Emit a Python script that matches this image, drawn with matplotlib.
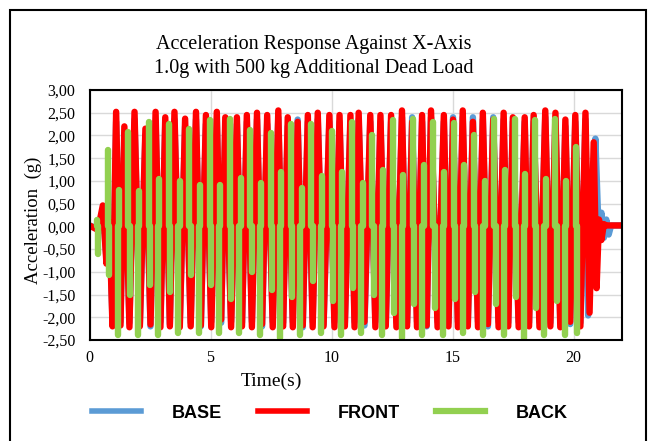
import numpy as np
import matplotlib.pyplot as plt
from matplotlib.lines import Line2D
from matplotlib.patches import Rectangle
from matplotlib.ticker import FuncFormatter

# FRONT sensor, turning points (time s, acceleration g)
front_t = [0.00, 0.35, 0.55, 0.70, 0.82, 0.95, 1.10, 1.28, 1.44, 1.65,
           1.86, 2.08, 2.31, 2.52, 2.73, 2.93, 3.13, 3.32, 3.51, 3.73,
           3.95, 4.18, 4.40, 4.60, 4.81, 5.03, 5.26, 5.44, 5.61, 5.85,
           6.09, 6.30, 6.50, 6.71, 6.92, 7.13, 7.34, 7.57, 7.80, 8.00,
           8.19, 8.40, 8.60, 8.81, 9.02, 9.22, 9.43, 9.67, 9.91, 10.12,
           10.33, 10.55, 10.78, 10.95, 11.12, 11.36, 11.60, 11.81, 12.02, 12.24,
           12.46, 12.68, 12.91, 13.12, 13.33, 13.53, 13.74, 13.93, 14.11, 14.38,
           14.64, 14.83, 15.02, 15.22, 15.42, 15.63, 15.84, 16.05, 16.25, 16.46,
           16.68, 16.90, 17.11, 17.30, 17.49, 17.73, 17.98, 18.16, 18.35, 18.59,
           18.83, 19.04, 19.25, 19.45, 19.66, 19.86, 20.07, 20.28, 20.49, 20.66,
           20.83, 20.95, 21.05, 21.15, 21.25, 21.35, 22.00]
front_g = [0.02, -0.08, 0.46, -0.82, 0.10, -2.20, 2.52, -2.18, 2.20, -2.22,
           2.52, -2.20, 2.15, -2.16, 2.52, -2.22, 2.40, -2.20, 2.52, -2.22,
           2.37, -2.20, 2.52, -2.18, 2.45, -2.22, 2.52, -2.05, 2.40, -2.22,
           2.40, -2.20, 2.45, -2.22, 2.50, -2.15, 2.45, -2.22, 2.55, -2.20,
           2.40, -2.22, 2.30, -2.18, 2.45, -2.22, 2.50, -2.20, 2.45, -2.22,
           2.45, -2.20, 2.45, -2.22, 2.50, -2.10, 2.45, -2.22, 2.45, -2.20,
           2.45, -2.22, 2.55, -2.20, 2.30, -2.22, 2.45, -2.18, 2.55, -2.22,
           2.45, -2.20, 2.35, -2.22, 2.55, -2.20, 2.30, -2.22, 2.50, -2.15,
           2.35, -2.22, 2.50, -2.20, 2.40, -2.22, 2.40, -2.20, 2.45, -2.22,
           2.55, -2.20, 2.50, -2.22, 2.35, -2.10, 2.45, -2.20, 2.50, -1.90,
           1.85, -1.36, 0.15, -0.30, 0.05, 0.02, 0.02]

# BASE sensor: same shaking turning points, its own tail after 20.5 s
base_t = front_t[:99] + [20.60, 20.90, 21.00, 21.08, 21.15, 21.25, 21.35,
                         21.45, 21.55, 22.00]
base_g = [0.02, -0.05, 0.35, -0.70, 0.05, -2.05, 2.30, -2.10, 2.05, -2.12,
          2.35, -2.15, 2.00, -2.20, 2.30, -2.10, 2.25, -2.15, 2.35, -2.10,
          2.20, -2.12, 2.35, -2.20, 2.25, -2.10, 2.35, -2.12, 2.20, -2.10,
          2.25, -2.12, 2.30, -2.10, 2.35, -2.20, 2.25, -2.10, 2.40, -2.12,
          2.20, -2.10, 2.35, -2.22, 2.30, -2.10, 2.35, -2.15, 2.30, -2.10,
          2.30, -2.12, 2.30, -2.10, 2.35, -2.18, 2.30, -2.10, 2.30, -2.12,
          2.30, -2.10, 2.40, -2.12, 2.40, -2.10, 2.30, -2.20, 2.40, -2.10,
          2.30, -2.12, 2.40, -2.10, 2.40, -2.12, 2.40, -2.10, 2.35, -2.20,
          2.40, -2.10, 2.35, -2.12, 2.30, -2.10, 2.30, -2.12, 2.30, -2.10,
          2.40, -2.12, 2.35, -2.10, 2.20, -2.15, 2.30, -2.12, 2.35,
          -1.96, 1.93, 0.40, -0.10, 0.30, -0.25, 0.15, -0.18, 0.02, 0.02]

# BACK sensor: spikes (time, peak g) and the dense band around zero
back_spike_t = [0.30, 0.34,
                0.77, 0.82, 1.17, 1.23, 1.61, 1.66, 2.00, 2.06,
                2.45, 2.50, 2.83, 2.89, 3.29, 3.34, 3.67, 3.73,
                4.13, 4.18, 4.51, 4.57, 4.97, 5.02, 5.35, 5.41,
                5.81, 5.86, 6.19, 6.25, 6.65, 6.70, 7.03, 7.09,
                7.49, 7.54, 7.87, 7.93, 8.33, 8.38, 8.71, 8.77,
                9.17, 9.22, 9.55, 9.61, 10.01, 10.06, 10.39, 10.45,
                10.85, 10.90, 11.23, 11.29, 11.69, 11.74, 12.07, 12.13,
                12.53, 12.58, 12.91, 12.97, 13.37, 13.42, 13.75, 13.81,
                14.21, 14.26, 14.59, 14.65, 15.05, 15.10, 15.43, 15.49,
                15.89, 15.94, 16.27, 16.33, 16.73, 16.78, 17.11, 17.17,
                17.57, 17.62, 17.95, 18.01, 18.41, 18.46, 18.79, 18.85,
                19.25, 19.30, 19.63, 19.69, 20.09, 20.14]
back_spike_g = [0.15, -0.60,
                1.67, -1.07, -2.40, 0.80, 2.08, -1.50, -2.40, 0.78,
                2.29, -1.30, -2.40, 1.05, 2.26, -1.45, -2.35, 1.00,
                2.15, -1.08, -2.35, 0.90, 2.33, -1.30, -2.35, 0.90,
                2.37, -1.60, -2.35, 1.07, 2.12, -1.00, -2.40, 0.95,
                2.05, -1.40, -2.45, 1.20, 2.25, -1.55, -2.40, 0.85,
                2.26, -1.20, -2.35, 1.10, 2.10, -1.65, -2.40, 1.20,
                2.30, -1.35, -2.35, 0.95, 2.00, -1.50, -2.40, 1.25,
                2.35, -1.90, -2.45, 1.12, 2.37, -1.70, -2.40, 1.34,
                2.30, -1.80, -2.40, 1.20, 2.28, -1.60, -2.35, 1.34,
                2.00, -1.45, -2.40, 1.00, 2.37, -1.70, -2.40, 1.25,
                2.37, -1.55, -2.45, 1.15, 2.33, -1.80, -2.40, 1.05,
                2.37, -1.65, -2.40, 1.00, 1.74, -2.35]
back_band_t = [0.00, 0.25, 0.45, 0.70, 20.30, 20.60, 20.90, 21.10, 22.00]
back_band_w = [0.03, 0.04, 0.14, 0.26, 0.26, 0.16, 0.08, 0.03, 0.03]

c_base, c_front, c_back = '#5B9BD5', '#FF0000', '#92D050'
serif = 'Liberation Serif'

fig = plt.figure(figsize=(6.53, 4.41), dpi=100)
ax = fig.add_axes([89.5 / 653, 1 - 340 / 441, 532.5 / 653, 250 / 441])

ax.plot(base_t, base_g, color=c_base, lw=4.6)
ax.plot(front_t, front_g, color=c_front, lw=4.6)
bw = np.array(back_band_w)
ax.fill_between(back_band_t, -bw, bw, color=c_back, lw=0)
ax.vlines(back_spike_t, 0, back_spike_g, color=c_back, lw=4.6, capstyle='round')

ax.set_xlim(0, 22)
ax.set_ylim(-2.5, 3.0)
ax.set_xticks([0, 5, 10, 15, 20])
ax.set_yticks(np.arange(-2.5, 3.01, 0.5))
ax.yaxis.set_major_formatter(FuncFormatter(lambda v, p: f'{v:.2f}'.replace('.', ',')))
ax.grid(True, color='#d9d9d9', lw=1)
ax.set_axisbelow(True)
ax.tick_params(length=0, labelsize=11.5)
ax.tick_params(axis='y', pad=10)
ax.tick_params(axis='x', pad=7)
for lab in ax.get_xticklabels() + ax.get_yticklabels():
    lab.set_fontfamily(serif)
for s in ax.spines.values():
    s.set_linewidth(1.5)
    s.set_color('black')

fig.text(314 / 653, 1 - 44 / 441, 'Acceleration Response Against X-Axis',
         ha='center', va='center', fontsize=14.5, family=serif)
fig.text(314 / 653, 1 - 69 / 441, '1.0g with 500 kg Additional Dead Load',
         ha='center', va='center', fontsize=14.5, family=serif)
fig.text(33 / 653, 1 - 220 / 441, 'Acceleration  (g)', rotation=90,
         ha='center', va='center', fontsize=13.5, family=serif)
fig.text(271 / 653, 1 - 381 / 441, 'Time(s)', ha='center', va='center',
         fontsize=14, family=serif)

handles = [Line2D([], [], color=c_base, lw=4),
           Line2D([], [], color=c_front, lw=4),
           Line2D([], [], color=c_back, lw=4.5)]
fig.legend(handles, ['BASE', 'FRONT', 'BACK'], loc='center',
           bbox_to_anchor=(330 / 653, 1 - 413 / 441), ncol=3, frameon=False,
           handlelength=2.7, handletextpad=1.7, columnspacing=2.0,
           prop={'family': 'Liberation Sans', 'weight': 'bold', 'size': 13})

fig.patches.append(Rectangle((10 / 653, -0.01), 636 / 653, 1 - 10 / 441 + 0.01,
                             transform=fig.transFigure, fill=False,
                             edgecolor='black', lw=1.5))

fig.savefig('out.png', dpi=100)
